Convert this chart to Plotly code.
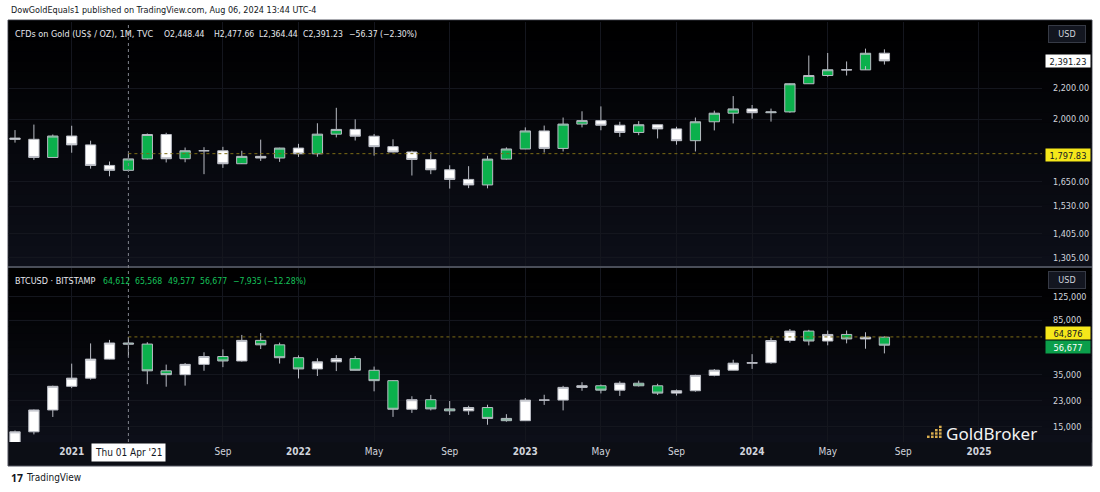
import numpy as np
import plotly.graph_objects as go

# ---------------- data (monthly candles, Oct 2020 .. Aug 2024) ----------------
months = ["2020-10", "2020-11", "2020-12",
          "2021-01", "2021-02", "2021-03", "2021-04", "2021-05", "2021-06",
          "2021-07", "2021-08", "2021-09", "2021-10", "2021-11", "2021-12",
          "2022-01", "2022-02", "2022-03", "2022-04", "2022-05", "2022-06",
          "2022-07", "2022-08", "2022-09", "2022-10", "2022-11", "2022-12",
          "2023-01", "2023-02", "2023-03", "2023-04", "2023-05", "2023-06",
          "2023-07", "2023-08", "2023-09", "2023-10", "2023-11", "2023-12",
          "2024-01", "2024-02", "2024-03", "2024-04", "2024-05", "2024-06",
          "2024-07", "2024-08"]

gold_open = [1886, 1879, 1777, 1898, 1847, 1734, 1708, 1769, 1907, 1770, 1814, 1814, 1743, 1783, 1774,
             1829, 1797, 1909, 1937, 1897, 1837, 1807, 1766, 1711, 1661, 1633, 1768,
             1824, 1928, 1827, 1969, 1990, 1962, 1919, 1965, 1940, 1871, 1983, 2036,
             2063, 2039, 2044, 2229, 2286, 2327, 2326, 2448.44]
gold_high = [1933, 1966, 1907, 1959, 1871, 1755, 1798, 1913, 1917, 1832, 1834, 1836, 1814, 1877, 1831,
             1853, 1974, 2070, 1998, 1910, 1879, 1814, 1808, 1735, 1730, 1786, 1833,
             1949, 1960, 2009, 2048, 2079, 1983, 1987, 1966, 1953, 2009, 2052, 2146,
             2088, 2065, 2223, 2431, 2450, 2387, 2483, 2477.66]
gold_low = [1860, 1764, 1775, 1803, 1717, 1677, 1705, 1766, 1750, 1751, 1688, 1721, 1746, 1758, 1753,
            1780, 1781, 1890, 1872, 1787, 1805, 1681, 1688, 1615, 1617, 1616, 1765,
            1823, 1804, 1810, 1949, 1932, 1893, 1903, 1884, 1848, 1810, 1931, 1973,
            2002, 1984, 2039, 2228, 2277, 2286, 2353, 2364.44]
gold_close = [1879, 1777, 1898, 1847, 1734, 1708, 1769, 1907, 1770, 1814, 1814, 1743, 1783, 1774, 1829,
              1797, 1909, 1937, 1897, 1837, 1807, 1766, 1711, 1661, 1633, 1768, 1824,
              1928, 1827, 1969, 1990, 1962, 1919, 1965, 1940, 1871, 1983, 2036, 2063,
              2039, 2044, 2229, 2286, 2327, 2326, 2448, 2391.23]

btc_open = [10776, 13797, 19700, 28990, 33110, 45160, 58740, 57720, 37300, 35040, 41460, 47130, 43820, 61320, 57000,
            46210, 38470, 43190, 45530, 37640, 31780, 19930, 23300, 20050, 19430, 20500, 17170,
            16540, 23140, 23150, 28480, 29250, 27220, 30480, 29230, 25940, 26960, 34650, 37720,
            42280, 42580, 61180, 71330, 60660, 67540, 62760, 64612]
btc_high = [14100, 19864, 29300, 41950, 58350, 61780, 64864, 59530, 41300, 42400, 50500, 52920, 67000, 69000, 59100,
            48000, 45800, 48200, 47450, 40000, 31980, 24650, 25200, 22800, 21100, 21460, 18400,
            23950, 25250, 29200, 31000, 29840, 31440, 31800, 30200, 27500, 35000, 38420, 44700,
            48970, 64000, 73800, 72800, 71980, 71980, 70000, 65568]
btc_low = [10525, 13227, 17580, 28130, 32300, 44960, 47000, 30000, 28800, 29300, 37330, 39600, 43300, 53250, 42000,
           32950, 34300, 37150, 37600, 26700, 17600, 18780, 19550, 18150, 18200, 15480, 16270,
           16500, 21400, 19570, 26950, 25800, 24780, 28880, 25170, 24900, 26550, 34100, 37630,
           38500, 41870, 59100, 56500, 56560, 58400, 53500, 49577]
btc_close = [13797, 19700, 28990, 33110, 45160, 58740, 57720, 37300, 35040, 41460, 47130, 43820, 61320, 57000, 46210,
             38470, 43190, 45530, 37640, 31780, 19930, 23300, 20050, 19430, 20500, 17170, 16540,
             23140, 23150, 28480, 29250, 27220, 30480, 29230, 25940, 26960, 34650, 37720, 42280,
             42580, 61180, 71330, 60660, 67540, 62760, 64612, 56677]

gold_ticks = [2200, 2000, 1650, 1530, 1405, 1305]
gold_tick_text = ["2,200.00", "2,000.00", "1,650.00", "1,530.00", "1,405.00", "1,305.00"]
btc_ticks = [125000, 85000, 35000, 23000, 15000]
btc_tick_text = ["125,000", "85,000", "35,000", "23,000", "15,000"]

time_tick_months = ["2021-01", "2021-09", "2022-01", "2022-05", "2022-09", "2023-01",
                    "2023-05", "2023-09", "2024-01", "2024-05", "2024-09", "2025-01"]
time_tick_text = ["<b>2021</b>", "Sep", "<b>2022</b>", "May", "Sep", "<b>2023</b>",
                  "May", "Sep", "<b>2024</b>", "May", "Sep", "<b>2025</b>"]

gold_legend_title = "CFDs on Gold (US$ / OZ), 1M, TVC"
gold_legend_values = ["O2,448.44", "H2,477.66", "L2,364.44", "C2,391.23", "−56.37 (−2.30%)"]
btc_legend_title = "BTCUSD · BITSTAMP"
btc_legend_values = ["64,612", "65,568", "49,577", "56,677", "−7,935 (−12.28%)"]

gold_level = 1797.83     # horizontal ray (Apr 2021 high)
btc_level = 64876
gold_last = 2391.23
btc_last = 56677
cross_month = "2021-04"

# ---------------- geometry helpers ----------------
W, H = 1100, 492
L, R, T, B = 8, 1042, 22, 442


def month_index(m):
    y0, m0 = map(int, months[0].split("-"))
    y, mm = map(int, m.split("-"))
    return (y - y0) * 12 + (mm - m0)


def px_x(px):
    return (px - L) / (R - L)


def px_y(py):
    return (B - py) / (B - T)


idx = list(range(len(months)))
step = 18.9
x0_px = 15
xr = [-(x0_px - L) / step, (R - x0_px) / step]

# log scales (price per pixel fitted on the reference)
g_top = 2000 * np.exp((119 - 22) / 325.3)
g_bot = 2000 * np.exp(-(266 - 119) / 325.3)
b_top = 125000 * np.exp((296.7 - 268) / 61.31)
b_bot = 125000 * np.exp(-(442 - 296.7) / 61.31)

GREEN = "#0bb04c"
WHITE = "#ffffff"
EDGE = "#b9bcc4"
FONT = "Liberation Sans Narrow, Arial Narrow, DejaVu Sans Condensed, sans-serif"
AX = "#d1d4dc"
GRID = "#14161e"

fig = go.Figure()
fig.add_trace(go.Candlestick(
    x=idx, open=gold_open, high=gold_high, low=gold_low, close=gold_close,
    xaxis="x", yaxis="y",
    increasing=dict(fillcolor=GREEN, line=dict(color=EDGE, width=1)),
    decreasing=dict(fillcolor=WHITE, line=dict(color=EDGE, width=1)),
    whiskerwidth=0, showlegend=False, hoverinfo="skip"))
fig.add_trace(go.Candlestick(
    x=idx, open=btc_open, high=btc_high, low=btc_low, close=btc_close,
    xaxis="x2", yaxis="y2",
    increasing=dict(fillcolor=WHITE, line=dict(color=EDGE, width=1)),
    decreasing=dict(fillcolor=GREEN, line=dict(color=EDGE, width=1)),
    whiskerwidth=0, showlegend=False, hoverinfo="skip"))

shapes = []
# outer dark box
shapes.append(dict(type="rect", xref="paper", yref="paper", layer="below",
                   x0=px_x(8), x1=px_x(1092), y0=px_y(466), y1=px_y(20),
                   fillcolor="#0c0e15", line=dict(color="#50535e", width=1)))


def gradient(ytop, ybot, n=24):
    out = []
    for i in range(n):
        f = i / (n - 1)
        c = (int(0 + 13 * f), int(0 + 15 * f), int(0 + 25 * f))
        y0 = ytop + (ybot - ytop) * i / n
        y1 = ytop + (ybot - ytop) * (i + 1) / n
        out.append(dict(type="rect", xref="paper", yref="paper", layer="below",
                        x0=px_x(8.5), x1=px_x(1091.5), y0=px_y(y1 + 0.5), y1=px_y(y0),
                        fillcolor="rgb(%d,%d,%d)" % c, line=dict(width=0)))
    return out


shapes += gradient(20.5, 266)
shapes += gradient(268, 442)
# pane separator
shapes.append(dict(type="line", xref="paper", yref="paper",
                   x0=px_x(8), x1=px_x(1092), y0=px_y(267), y1=px_y(267),
                   line=dict(color="#4a4e59", width=2)))

ci = month_index(cross_month)
# crosshair vertical
shapes.append(dict(type="line", xref="x", yref="paper", x0=ci, x1=ci,
                   y0=0, y1=1, line=dict(color="#80838c", width=1, dash="dot")))
# horizontal rays
shapes.append(dict(type="line", xref="x", yref="y", x0=ci, x1=xr[1],
                   y0=gold_level, y1=gold_level, line=dict(color="#7d6c16", width=1, dash="dot")))
shapes.append(dict(type="line", xref="x2", yref="y2", x0=ci, x1=xr[1],
                   y0=btc_level, y1=btc_level, line=dict(color="#7d6c16", width=1, dash="dot")))

# GoldBroker logo squares
for c, hgt in enumerate([1, 2, 3, 4]):
    for r in range(hgt):
        cx = 927 + c * 4
        cy = 438 - r * 3.3
        shapes.append(dict(type="rect", xref="paper", yref="paper",
                           x0=px_x(cx), x1=px_x(cx + 2.6), y0=px_y(cy), y1=px_y(cy - 2.4),
                           fillcolor="#d9ad4f", line=dict(width=0)))

ann = []


def txt(text, xpx, ypx, size, color, anchor="left", family=FONT):
    return dict(text=text, xref="paper", yref="paper", x=px_x(xpx), y=px_y(ypx),
                xanchor=anchor, yanchor="middle", showarrow=False,
                font=dict(family=family, size=size, color=color))


ann.append(txt("DowGoldEquals1 published on TradingView.com, Aug 06, 2024 13:44 UTC-4", 9, 10, 9.0, "#131722"))

ann.append(txt(gold_legend_title, 13, 34, 9.0, "#e6e8ee"))
for t, xp in zip(gold_legend_values, [162, 212, 257, 301, 347]):
    ann.append(txt(t, xp, 34, 8.6, "#e6e8ee"))
ann.append(txt(btc_legend_title, 13, 281, 9.0, "#e6e8ee"))
for t, xp in zip(btc_legend_values, [101, 133, 166, 198, 231]):
    ann.append(txt(t, xp, 281, 8.6, "#16c25a"))

for yy in (34, 280):
    ann.append(dict(text="USD", xref="paper", yref="paper", x=px_x(1067), y=px_y(yy),
                    xanchor="center", yanchor="middle", showarrow=False,
                    font=dict(family=FONT, size=9, color=AX), bgcolor="#131620",
                    bordercolor="#363a45", borderwidth=1, borderpad=2, width=32, height=12))


def price_label(text, ypx, bg, fg):
    return dict(text=text, xref="paper", yref="paper", x=px_x(1045), y=px_y(ypx),
                xanchor="left", yanchor="middle", showarrow=False,
                font=dict(family=FONT, size=9.2, color=fg), bgcolor=bg, borderpad=1,
                width=42, height=10)


def gold_px(v):
    return 119 - 325.3 * np.log(v / 2000)


def btc_px(v):
    return 296.7 - 61.31 * np.log(v / 125000)


ann.append(price_label("2,391.23", gold_px(gold_last), "#ffffff", "#131722"))
ann.append(price_label("1,797.83", gold_px(gold_level) + 1.5, "#f5e71a", "#131722"))
# TradingView stacks the two close labels so they do not overlap
ann.append(price_label("64,876", btc_px(btc_level) - 4, "#f5e71a", "#131722"))
ann.append(price_label("56,677", btc_px(btc_last) + 1.5, "#0b9e4b", "#ffffff"))

ann.append(dict(text="Thu 01 Apr '21", xref="x2", yref="paper", x=ci, y=px_y(453),
                xanchor="center", yanchor="middle", showarrow=False,
                font=dict(family=FONT, size=10, color="#131722"), bgcolor="#ffffff", borderpad=3))
ann.append(txt("GoldBroker", 944, 433, 17, "#f2f2f2", family="Noto Sans, sans-serif"))
ann.append(txt("<b>17</b>", 9, 478, 10.5, "#131722", family="Noto Sans, sans-serif"))
ann.append(txt("TradingView", 24, 478, 10, "#131722"))

tickpos = [month_index(m) for m in time_tick_months]

xcommon = dict(range=xr, tickvals=tickpos, showgrid=True, gridcolor=GRID, gridwidth=1,
               zeroline=False, showline=False, rangeslider=dict(visible=False), fixedrange=True)
ycommon = dict(side="right", ticks="", ticklabelstandoff=10, showgrid=True, gridcolor=GRID,
               zeroline=False, showline=False, type="log",
               tickfont=dict(family=FONT, size=9, color=AX))
fig.update_layout(
    width=W, height=H,
    margin=dict(l=L, r=W - R, t=T, b=H - B),
    paper_bgcolor="#ffffff", plot_bgcolor="rgba(0,0,0,0)",
    boxgap=0.22,
    xaxis=dict(**xcommon, anchor="y", showticklabels=False, domain=[0, 1]),
    xaxis2=dict(**xcommon, anchor="y2", matches="x", domain=[0, 1], showticklabels=True,
                ticktext=time_tick_text, ticks="", ticklabelstandoff=2,
                tickfont=dict(family=FONT, size=10, color=AX)),
    yaxis=dict(**ycommon, domain=[(B - 266) / (B - T), 1], anchor="x",
               range=[np.log10(g_bot), np.log10(g_top)],
               tickvals=gold_ticks, ticktext=gold_tick_text),
    yaxis2=dict(**ycommon, domain=[0, (B - 268) / (B - T)], anchor="x2",
                range=[np.log10(b_bot), np.log10(b_top)],
                tickvals=btc_ticks, ticktext=btc_tick_text),
    shapes=shapes, annotations=ann, hovermode=False, showlegend=False,
)

fig.write_html("out.html")
